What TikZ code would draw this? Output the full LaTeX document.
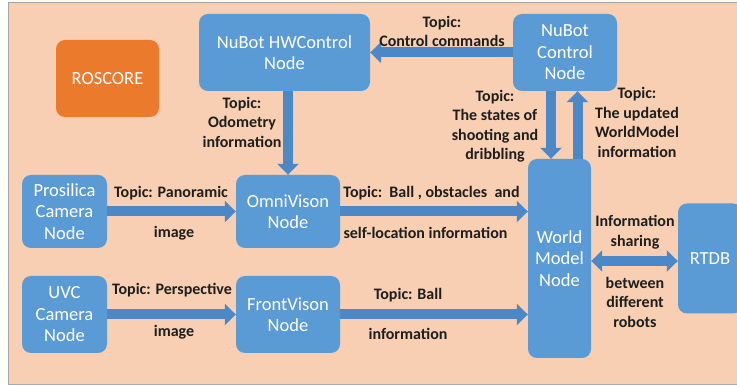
\documentclass[tikz,border=0pt]{standalone}
\usepackage{fontspec}
\setmainfont{Carlito}
\usetikzlibrary{arrows.meta}
\definecolor{peach}{HTML}{F8CFB2}
\definecolor{nodeblue}{HTML}{5B9BD5}
\definecolor{arrowblue}{HTML}{4C88C8}
\definecolor{rosorange}{HTML}{EC7A2C}
\definecolor{txt}{HTML}{1E1E1E}
\tikzset{
  box/.style={fill=nodeblue, rounded corners=9pt, text=white, align=center,
    font=\fontsize{18.5}{21.5}\selectfont, inner sep=0pt},
  lab/.style={text=txt, align=center, font=\fontsize{16}{19.5}\selectfont\bfseries, inner sep=0pt},
  flow/.style={draw=arrowblue, line width=10pt, -{Triangle[width=21pt,length=11pt]}},
  flowboth/.style={draw=arrowblue, line width=10pt, {Triangle[width=21pt,length=11pt]}-{Triangle[width=21pt,length=11pt]}}
}
\begin{document}
\begin{tikzpicture}[x=1pt,y=-1pt]
\useasboundingbox (0,0) rectangle (737,387);
\begin{scope}
\clip (0,0) rectangle (737,387);
\fill[white] (0,0) rectangle (737,387);
\draw[fill=peach, draw=gray!70, line width=1pt] (8,3) rectangle (745,385);
\end{scope}

\node[box, fill=rosorange, minimum width=103pt, minimum height=77pt] (ros) at (107.5,78.5) {ROSCORE};
\node[box, minimum width=171pt, minimum height=77pt] (hw) at (284.5,52.5) {NuBot HWControl\\Node};
\node[box, minimum width=104pt, minimum height=77pt] (ctrl) at (565,52.5) {NuBot\\Control\\Node};
\node[box, minimum width=85pt, minimum height=73pt] (pros) at (64.5,211.5) {Prosilica\\Camera\\Node};
\node[box, minimum width=104pt, minimum height=73pt] (omni) at (288,211.5) {OmniVison\\Node};
\node[box, minimum width=85pt, minimum height=77pt] (uvc) at (64.5,314.5) {UVC\\Camera\\Node};
\node[box, minimum width=104pt, minimum height=77pt] (front) at (288,314.5) {FrontVison\\Node};
\node[box, minimum width=63pt, minimum height=199pt] (wm) at (559.5,258.5) {World\\Model\\Node};
\begin{scope}
\clip (0,0) rectangle (737,387);
\node[box, minimum width=64pt, minimum height=110pt] (rtdb) at (710,258.5) {RTDB};
\end{scope}

% arrows
\draw[flow] (hw.south -| omni.north) -- (omni.north);
\draw[flow] (ctrl.west) -- (hw.east);
\draw[flow] ([xshift=-8.5pt]wm.north |- ctrl.south) -- ([xshift=-8.5pt]wm.north);
\draw[flow] ([xshift=18pt]wm.north) -- ([xshift=18pt]wm.north |- ctrl.south);
\draw[flow] (pros.east) -- (omni.west);
\draw[flow] (omni.east) -- (omni.east -| wm.west);
\draw[flow] (uvc.east) -- (front.west);
\draw[flow] (front.east) -- (front.east -| wm.west);
\draw[flowboth] ([yshift=-2.5pt]wm.east) -- ([yshift=-2.5pt]wm.east -| rtdb.west);

% labels
\node[lab] (odo) at (242,122) {Topic:\\Odometry\\information};
\node[lab] (cmd) at (442,31.5) {Topic:\\Control commands};
\node[lab] (states) at (495,126) {Topic:\\The states of\\shooting and\\dribbling};
\node[lab] (upd) at (637,122.5) {Topic:\\The updated\\WorldModel\\information};
\node[lab] (pan1) at (171,193) {Topic: Panoramic};
\node[lab] (pan2) at (174,233) {image};
\node[lab] (per1) at (172,290) {Topic: Perspective};
\node[lab] (per2) at (174,332) {image};
\node[lab] (ball1) at (431.5,193) {Topic:\ \ Ball , obstacles\ \ and};
\node[lab] (ball2) at (425.5,233) {self-location information};
\node[lab] (fb1) at (408,295) {Topic: Ball};
\node[lab] (fb2) at (408,334) {information};
\node[lab] (share1) at (635,232) {Information\\sharing};
\node[lab] (share2) at (635,302) {between\\different\\robots};
\end{tikzpicture}
\end{document}
